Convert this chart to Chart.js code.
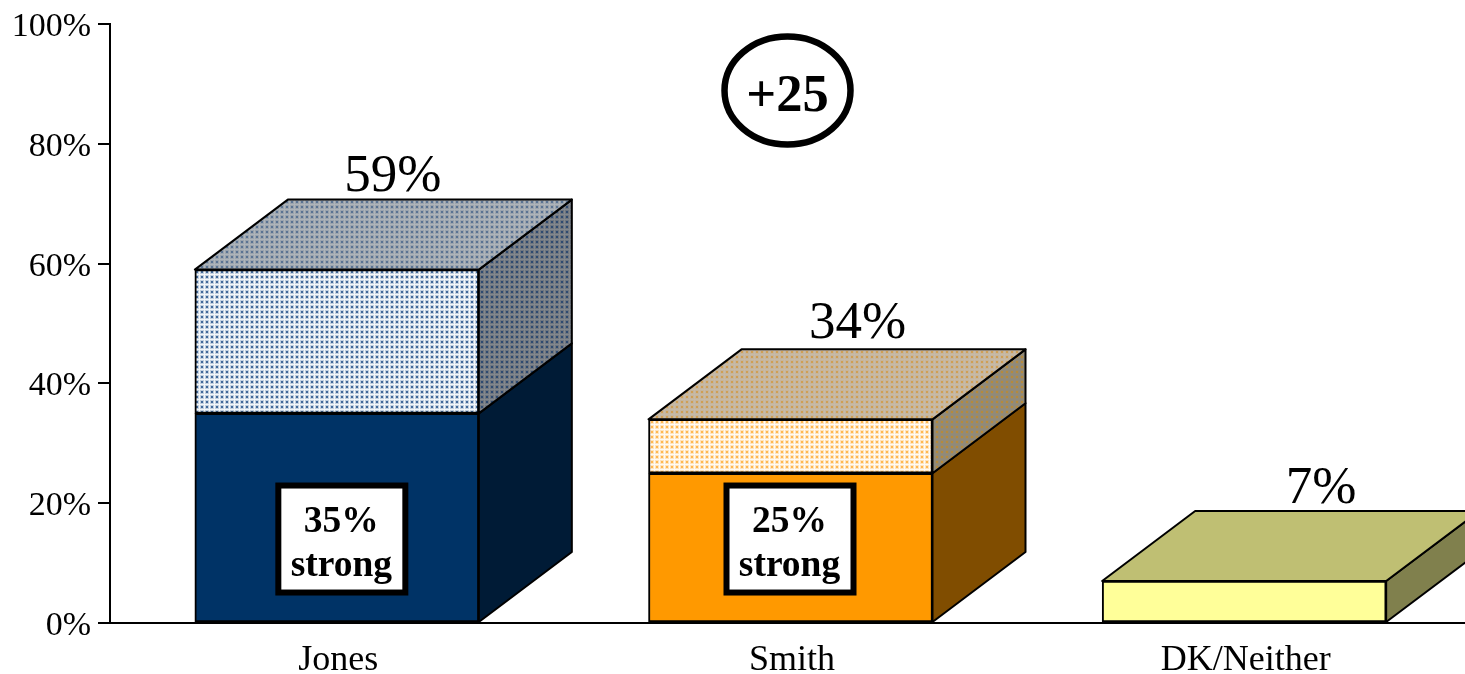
<!DOCTYPE html>
<html>
<head>
<meta charset="utf-8">
<script src="https://cdn.jsdelivr.net/npm/chart.js@4"></script>
<style>
  html, body { margin: 0; padding: 0; background: #fff; overflow: hidden; }
  canvas { display: block; }
</style>
</head>
<body>
<canvas id="chart1" width="1471" height="674"></canvas>
<script>
const categories = ["Jones", "Smith", "DK/Neither"];
const strongValues = [35, 25, 7];
const softValues = [24, 9, 0];
const totalLabels = ["59%", "34%", "7%"];
const strongLabels = ["35%", "25%", null];
const leadLabel = "+25";

const serif = "'Liberation Serif', 'Times New Roman', serif";
const black = "#000";

// the dotted fills of the original, small repeating tile
function dots(bg, halo, dot) {
  const tile = document.createElement("canvas");
  tile.width = 5;
  tile.height = 5;
  const c = tile.getContext("2d");
  c.fillStyle = bg;
  c.fillRect(0, 0, 5, 5);
  c.fillStyle = halo;
  c.fillRect(0, 0, 4, 4);
  c.fillStyle = dot;
  c.fillRect(1, 1, 2, 2);
  return document.getElementById("chart1").getContext("2d").createPattern(tile, "repeat");
}

const strongFront = ["#003366", "#FF9900", "#FFFF99"];
const strongSide = ["#001B36", "#804D00", "#80804D"];
const softFront = [dots("#F4F7FA", "#C3D0DF", "#42699A"), dots("#FFFAF2", "#FFE4BE", "#FFB850"), null];
const softSide = [dots("#83878D", "#6E757F", "#2F4A70"), dots("#8F8A7C", "#958A72", "#B58A3C"), null];
const topFace = [dots("#AEB4BA", "#9AA3AD", "#5A7393"), dots("#C6BAA8", "#C6B59C", "#CF9F55"), "#BFBF73"];

const depthX = 93;
const depthY = 70;
const totalShift = [56, 67, 77];
const totalRise = [9, 11, 8];

function face(ctx, pts, fill) {
  ctx.beginPath();
  pts.forEach((p, i) => (i ? ctx.lineTo(p[0], p[1]) : ctx.moveTo(p[0], p[1])));
  ctx.closePath();
  ctx.fillStyle = fill;
  ctx.fill();
  ctx.lineWidth = 2;
  ctx.lineJoin = "round";
  ctx.strokeStyle = black;
  ctx.stroke();
}

// bars are flat in Chart.js, so the top and side faces are added from the bar elements
const boxes3d = {
  id: "boxes3d",
  afterDatasetsDraw(chart) {
    const ctx = chart.ctx;
    const low = chart.getDatasetMeta(0).data;
    const high = chart.getDatasetMeta(1).data;
    ctx.save();
    categories.forEach((name, i) => {
      const right = low[i].x + low[i].width / 2;
      const left = low[i].x - low[i].width / 2;
      const base = low[i].base;
      const mid = low[i].y;
      const top = high[i].y;
      const dx = depthX;
      const dy = depthY;
      face(ctx, [[right, base], [right + dx, base - dy], [right + dx, mid - dy], [right, mid]], strongSide[i]);
      if (softSide[i]) {
        face(ctx, [[right, mid], [right + dx, mid - dy], [right + dx, top - dy], [right, top]], softSide[i]);
      }
      face(ctx, [[left, top], [left + dx, top - dy], [right + dx, top - dy], [right, top]], topFace[i]);
    });
    ctx.restore();
  },
  afterDraw(chart) {
    const ctx = chart.ctx;
    const yScale = chart.scales.y;
    const high = chart.getDatasetMeta(1).data;
    const low = chart.getDatasetMeta(0).data;
    ctx.save();
    ctx.textAlign = "center";
    ctx.textBaseline = "alphabetic";
    ctx.fillStyle = black;

    // totals above each box
    ctx.font = "53px " + serif;
    categories.forEach((name, i) => {
      ctx.fillText(totalLabels[i], high[i].x + totalShift[i], high[i].y - depthY - totalRise[i]);
    });

    // "35% strong" boxes
    strongLabels.forEach((label, i) => {
      if (!label) return;
      const cx = low[i].x + (i === 0 ? 4.5 : -1);
      const boxTop = yScale.getPixelForValue(22.95);
      ctx.fillStyle = "#fff";
      ctx.fillRect(cx - 63, boxTop, 127, 107);
      ctx.lineWidth = 6;
      ctx.lineJoin = "miter";
      ctx.strokeStyle = black;
      ctx.strokeRect(cx - 63, boxTop, 127, 107);
      ctx.fillStyle = black;
      ctx.font = "bold 37.5px " + serif;
      ctx.fillText(label, cx, boxTop + 46);
      ctx.fillText("strong", cx, boxTop + 90);
    });

    // lead callout
    const ex = low[1].x - 3;
    const ey = yScale.getPixelForValue(88.9);
    ctx.beginPath();
    ctx.ellipse(ex, ey, 63, 54, 0, 0, Math.PI * 2);
    ctx.lineWidth = 6.5;
    ctx.strokeStyle = black;
    ctx.stroke();
    ctx.fillStyle = black;
    ctx.font = "bold 52.5px " + serif;
    ctx.fillText(leadLabel, ex, ey + 21);
    ctx.restore();
  },
};

new Chart(document.getElementById("chart1"), {
  type: "bar",
  data: {
    labels: categories,
    datasets: [
      { data: strongValues, backgroundColor: strongFront, borderColor: black, borderWidth: 2, borderSkipped: false, barThickness: 284 },
      { data: softValues, backgroundColor: softFront, borderColor: black, borderWidth: 2, borderSkipped: false, barThickness: 284 },
    ],
  },
  plugins: [boxes3d],
  options: {
    responsive: false,
    animation: false,
    layout: { padding: { top: 24, left: 0, right: 0, bottom: 0 } },
    plugins: { legend: { display: false }, tooltip: { enabled: false } },
    scales: {
      x: {
        stacked: true,
        afterFit: (s) => { s.height = 51; },
        grid: { display: false },
        border: { color: black, width: 2 },
        ticks: { color: black, maxRotation: 0, padding: 8, labelOffset: 1.5, font: { family: serif, size: 36 } },
      },
      y: {
        stacked: true,
        min: 0,
        max: 100,
        afterFit: (s) => { s.width = 110; s.paddingTop = 0; s.paddingBottom = 0; },
        border: { color: black, width: 2 },
        grid: { drawOnChartArea: false, drawTicks: true, tickLength: 12, color: black, lineWidth: 2 },
        ticks: { stepSize: 20, color: black, padding: 7, labelOffset: 3, font: { family: serif, size: 34 }, callback: (v) => v + "%" },
      },
    },
  },
});
</script>
</body>
</html>
